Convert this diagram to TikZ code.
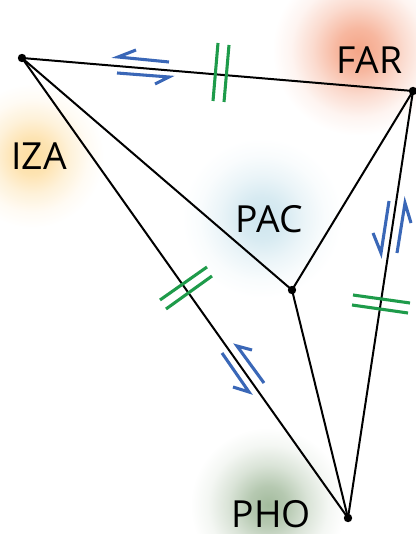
\documentclass[tikz,border=0pt]{standalone}
\usepackage{fontspec}
\setmainfont{Open Sans}
\definecolor{ridge}{HTML}{1E9B4A}
\definecolor{slip}{HTML}{3A67B7}
\definecolor{farc}{HTML}{F5A587}
\definecolor{izac}{HTML}{FDDDA0}
\definecolor{pacc}{HTML}{CDE5EE}
\definecolor{phoc}{HTML}{A3BB9D}
\pgfdeclareradialshading{glowfar}{\pgfpoint{0bp}{0bp}}{color(0bp)=(farc); color(16bp)=(farc!80!white); color(34bp)=(farc!40!white); color(50bp)=(farc!12!white); color(64bp)=(white)}
\pgfdeclareradialshading{glowiza}{\pgfpoint{0bp}{0bp}}{color(0bp)=(izac); color(14bp)=(izac!80!white); color(28bp)=(izac!40!white); color(42bp)=(izac!12!white); color(54bp)=(white)}
\pgfdeclareradialshading{glowpac}{\pgfpoint{0bp}{0bp}}{color(0bp)=(pacc); color(16bp)=(pacc!80!white); color(32bp)=(pacc!40!white); color(47bp)=(pacc!12!white); color(60bp)=(white)}
\pgfdeclareradialshading{glowpho}{\pgfpoint{0bp}{0bp}}{color(0bp)=(phoc); color(14bp)=(phoc!80!white); color(30bp)=(phoc!40!white); color(45bp)=(phoc!12!white); color(58bp)=(white)}
\tikzset{
  plate/.style={line width=1.5pt, black},
  ridgemark/.style={line width=2.3pt, ridge},
  slipmark/.style={line width=2.3pt, slip, line join=miter},
  label/.style={font=\fontsize{28}{30}\selectfont, inner sep=0pt, text=black},
  glow/.style={inner sep=0pt, outer sep=0pt},
}
\begin{document}
\begin{tikzpicture}[x=0.75pt,y=-0.75pt]
\useasboundingbox (0,0) rectangle (416,534);
\clip (0,0) rectangle (416,534);
\fill[white] (0,0) rectangle (416,534);
% glows
\node[glow] (farglow) at (358,50) {\pgfuseshading{glowfar}};
\node[glow] (izaglow) at (32,156) {\pgfuseshading{glowiza}};
\node[glow] (pacglow) at (262,218) {\pgfuseshading{glowpac}};
\node[glow] (phoglow) at (268,505) {\pgfuseshading{glowpho}};
% points
\coordinate (iza) at (22,58);
\coordinate (far) at (413,91);
\coordinate (pac) at (292,290);
\coordinate (pho) at (348,518);
% boundaries
\draw[plate] (iza) -- (far);
\draw[plate] (iza) -- (pac);
\draw[plate] (iza) -- (pho);
\draw[plate] (far) -- (pac);
\draw[plate] (far) -- (pho);
\draw[plate] (pac) -- (pho);
\foreach \p in {iza,far,pac,pho} \fill (\p) circle (4.2);
% ridge marks
\draw[ridgemark] (218,43) -- (213,101);
\draw[ridgemark] (229,45) -- (224,102);
\draw[ridgemark] (353,295) -- (410,303);
\draw[ridgemark] (352,305) -- (408,313);
\draw[ridgemark] (160,300) -- (207,267);
\draw[ridgemark] (166,309) -- (212,276);
% transform half-arrows
\draw[slipmark] (136,50) -- (118,57) -- (169,62);
\draw[slipmark] (117,73) -- (169,77) -- (155,84);
\draw[slipmark] (389,201) -- (381,253) -- (373,233);
\draw[slipmark] (397,253) -- (405,203) -- (411,223);
\draw[slipmark] (222,353) -- (249,392) -- (233,387);
\draw[slipmark] (264,383) -- (237,346) -- (252,350);
% labels
\node[label] (farlab) at (369.5,60.5) {FAR};
\node[label] (izalab) at (39,156.5) {IZA};
\node[label] (paclab) at (269,219.5) {PAC};
\node[label] (pholab) at (271.5,514) {PHO};
\end{tikzpicture}
\end{document}
